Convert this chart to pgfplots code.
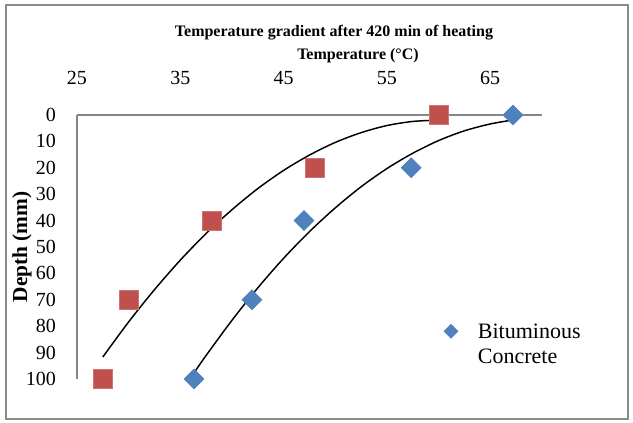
\documentclass[border=0pt]{standalone}
\usepackage{fontspec}
\setmainfont{Liberation Serif}
\usepackage{pgfplots}
\pgfplotsset{compat=1.18}
\definecolor{redm}{HTML}{C0504D}
\definecolor{bluem}{HTML}{4F81BD}
\definecolor{axgray}{HTML}{868686}
\definecolor{framegray}{HTML}{8A8A8A}
\begin{document}
\begin{tikzpicture}
\begin{axis}[
  scale only axis,
  width=348.75pt, height=198pt,
  xmin=25, xmax=70, ymin=0, ymax=100,
  y dir=reverse,
  axis x line=top, axis y line=left,
  axis line style={draw=axgray, line width=1.1pt, -},
  xtick={25,35,45,55,65},
  ytick={0,10,...,100},
  tick style={draw=none},
  /pgf/number format/assume math mode=true,
  ticklabel style={font=\fontsize{15}{17}\selectfont, inner sep=0pt},
  xticklabel style={anchor=base, yshift=20.5pt},
  yticklabel style={anchor=east, xshift=-13.5pt},
  clip=false,
  title={Temperature gradient after 420 min of heating},
  title style={at={(axis cs:49.88,-28.0)}, anchor=center, yshift=0pt, font=\bfseries\fontsize{12}{14}\selectfont, inner sep=0pt},
  xlabel={Temperature (°C)},
  xlabel style={at={(axis cs:52.2,-22.4)}, anchor=center, font=\bfseries\fontsize{12}{14}\selectfont, inner sep=0pt},
  ylabel={Depth (mm)},
  ylabel style={at={(axis cs:19.68,50)}, anchor=center, rotate=0, font=\bfseries\fontsize{16}{18}\selectfont, inner sep=0pt},
  legend style={at={(axis cs:60.5,77.2)}, anchor=north west, draw=none, fill=none,
    font=\fontsize{16.5}{18.5}\selectfont, inner sep=0pt, column sep=13pt},
  legend cell align=left,
  legend image post style={mark size=3.7pt},
]
\addplot[only marks, mark=square*, mark size=7pt,
  mark options={fill=redm, draw=redm!80!white, line width=0.4pt}, forget plot]
  coordinates {(60.04,0) (48.04,20) (38.07,40) (30.03,70) (27.5,100)};
\addplot[only marks, mark=square*, mark size=5.3pt,
  mark options={rotate=45, fill=bluem, draw=bluem, line width=0.4pt}]
  coordinates {(67.2,0) (57.35,20) (46.97,40) (41.94,70) (36.33,100)};
\addlegendentry{\begin{tabular}[t]{@{}l@{}}Bituminous\\Concrete\end{tabular}}
\addplot[black, line width=1.1pt, smooth, forget plot] coordinates {
  (27.5,91.7) (30,78.4) (32.5,66.2) (35,55.0) (37.5,44.9) (40,35.9)
  (42.5,27.9) (45,21.0) (47.5,15.2) (50,10.4) (52.5,6.7) (55,4.0)
  (57.5,2.45) (60,1.94)};
\addplot[black, line width=1.1pt, smooth, forget plot] coordinates {
  (36.4,97.3) (37.5,91.1) (40,77.8) (42.5,65.5) (45,54.3) (47.5,44.2)
  (50,35.2) (52.5,27.2) (55,20.3) (57.5,14.5) (60,9.7) (62.5,6.0)
  (65,3.4) (67.2,1.9)};
\draw[framegray, line width=1.5pt] (axis cs:18.13,-41.67) rectangle (axis cs:78.34,115.15);
\path (axis cs:17.55,-43.56) rectangle (axis cs:78.82,116.67);
\end{axis}
\end{tikzpicture}
\end{document}
